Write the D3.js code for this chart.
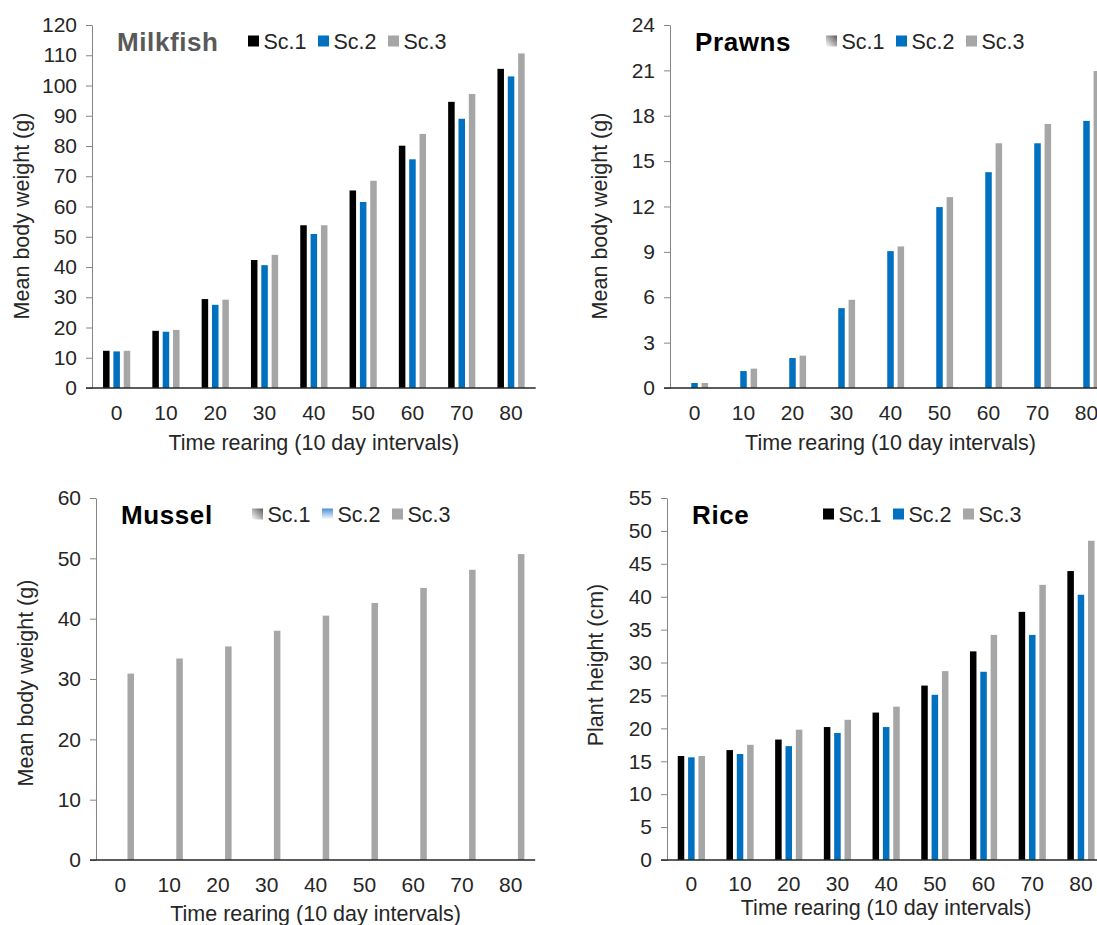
<!DOCTYPE html>
<html>
<head>
<meta charset="utf-8">
<script src="https://cdn.jsdelivr.net/npm/d3@7"></script>
<style>
  body { margin: 0; background: #fff; }
  svg { display: block; }
  text { font-family: "Liberation Sans", Arial, sans-serif; }
</style>
</head>
<body>
<svg id="chart" width="1097" height="925"></svg>
<script>
// categories
const days = ["0", "10", "20", "30", "40", "50", "60", "70", "80"];
const scenarios = ["Sc.1", "Sc.2", "Sc.3"];
const scColors = ["#000000", "#0070c0", "#a6a6a6"];

// milkfish mean body weight (g)
const milkfishSc1 = [12.3, 18.9, 29.4, 42.3, 53.8, 65.3, 80.1, 94.6, 105.5];
const milkfishSc2 = [12.1, 18.6, 27.5, 40.6, 50.9, 61.5, 75.6, 89.0, 103.0];
const milkfishSc3 = [12.3, 19.2, 29.2, 44.0, 53.8, 68.5, 84.0, 97.2, 110.6];

// prawns mean body weight (g) - no Sc.1 data
const prawnsSc1 = [];
const prawnsSc2 = [0.33, 1.12, 1.98, 5.28, 9.05, 11.96, 14.27, 16.18, 17.66];
const prawnsSc3 = [0.33, 1.28, 2.14, 5.83, 9.36, 12.62, 16.18, 17.46, 20.96];

// mussel mean body weight (g) - Sc.3 only
const musselSc1 = [];
const musselSc2 = [];
const musselSc3 = [30.9, 33.4, 35.4, 38.0, 40.5, 42.6, 45.1, 48.1, 50.7];

// rice plant height (cm)
const riceSc1 = [15.8, 16.7, 18.3, 20.2, 22.4, 26.5, 31.7, 37.7, 43.9];
const riceSc2 = [15.6, 16.1, 17.3, 19.3, 20.2, 25.1, 28.6, 34.2, 40.3];
const riceSc3 = [15.8, 17.5, 19.8, 21.3, 23.3, 28.7, 34.2, 41.8, 48.5];

// y tick settings
const milkfishTicks = d3.range(0, 121, 10);
const prawnsTicks = d3.range(0, 25, 3);
const musselTicks = d3.range(0, 61, 10);
const riceTicks = d3.range(0, 56, 5);

const svg = d3.select("#chart");
const defs = svg.append("defs");

let g1 = defs.append("linearGradient").attr("id", "fadeGray")
  .attr("x1", 0).attr("y1", 1).attr("x2", 1).attr("y2", 0);
g1.append("stop").attr("offset", "0%").attr("stop-color", "#ffffff");
g1.append("stop").attr("offset", "100%").attr("stop-color", "#595959");

let g2 = defs.append("linearGradient").attr("id", "fadeBlue")
  .attr("x1", 0).attr("y1", 0).attr("x2", 0).attr("y2", 1);
g2.append("stop").attr("offset", "0%").attr("stop-color", "#4a8fd6");
g2.append("stop").attr("offset", "100%").attr("stop-color", "#ffffff");

const panels = [
  { title: "Milkfish", titleColor: "#595959", left: 92, top: 25, bottom: 388, band: 49.3,
    ticks: milkfishTicks, yTitle: "Mean body weight (g)", yTitleX: 21, yTitleY: 216,
    series: [milkfishSc1, milkfishSc2, milkfishSc3], swatch: ["#000000", "#0070c0", "#a6a6a6"],
    labelDy: 25, xTitleDy: 54 },
  { title: "Prawns", titleColor: "#000000", left: 670, top: 25, bottom: 388, band: 49,
    ticks: prawnsTicks, yTitle: "Mean body weight (g)", yTitleX: 599, yTitleY: 216,
    series: [prawnsSc1, prawnsSc2, prawnsSc3], swatch: ["url(#fadeGray)", "#0070c0", "#a6a6a6"],
    labelDy: 25, xTitleDy: 54 },
  { title: "Mussel", titleColor: "#000000", left: 96, top: 498, bottom: 860, band: 48.8,
    ticks: musselTicks, yTitle: "Mean body weight (g)", yTitleX: 25, yTitleY: 683,
    series: [musselSc1, musselSc2, musselSc3], swatch: ["url(#fadeGray)", "url(#fadeBlue)", "#a6a6a6"],
    labelDy: 25, xTitleDy: 53 },
  { title: "Rice", titleColor: "#000000", left: 667, top: 498, bottom: 860, band: 48.7,
    ticks: riceTicks, yTitle: "Plant height (cm)", yTitleX: 595, yTitleY: 665,
    series: [riceSc1, riceSc2, riceSc3], swatch: ["#000000", "#0070c0", "#a6a6a6"],
    labelDy: 23.5, xTitleDy: 47 }
];

panels.forEach(p => {
  let g = svg.append("g");

  let x = d3.scaleBand()
    .domain(days)
    .range([p.left, p.left + days.length * p.band]);

  let inner = d3.scaleBand()
    .domain(scenarios)
    .range([-13.6, 13.6])
    .paddingInner(0.37);

  let y = d3.scaleLinear()
    .domain([0, d3.max(p.ticks)])
    .range([p.bottom, p.top]);

  // bars
  p.series.forEach((vals, si) => {
    g.selectAll(null)
      .data(vals.map((v, i) => ({ day: days[i], v: v })))
      .enter()
      .append("rect")
      .attr("x", d => x(d.day) + x.bandwidth() / 2 + inner(scenarios[si]))
      .attr("y", d => y(d.v))
      .attr("width", inner.bandwidth())
      .attr("height", d => p.bottom - y(d.v))
      .attr("fill", scColors[si]);
  });

  // y axis
  let yAxis = g.append("g")
    .attr("transform", "translate(" + p.left + ",0)")
    .call(d3.axisLeft(y).tickValues(p.ticks).tickSize(6).tickSizeOuter(0).tickPadding(9));
  yAxis.select(".domain").attr("stroke", "#868686");
  yAxis.selectAll(".tick line").attr("stroke", "#868686");
  yAxis.selectAll(".tick text")
    .attr("font-size", 21)
    .attr("fill", "#262626")
    .style("font-family", "'Liberation Sans', Arial, sans-serif");

  // x baseline + labels
  g.append("line")
    .attr("x1", p.left - 6).attr("x2", x.range()[1])
    .attr("y1", p.bottom).attr("y2", p.bottom)
    .attr("stroke", "#262626").attr("stroke-width", 1.3);

  g.selectAll(null)
    .data(days)
    .enter()
    .append("text")
    .attr("x", d => x(d) + x.bandwidth() / 2)
    .attr("y", p.bottom + p.labelDy)
    .attr("dy", "0.35em")
    .attr("text-anchor", "middle")
    .attr("font-size", 21)
    .attr("fill", "#262626")
    .text(d => d);

  // axis titles
  g.append("text")
    .attr("x", (x.range()[0] + x.range()[1]) / 2)
    .attr("y", p.bottom + p.xTitleDy)
    .attr("dy", "0.35em")
    .attr("text-anchor", "middle")
    .attr("font-size", 21.5)
    .attr("fill", "#262626")
    .text("Time rearing (10 day intervals)");

  g.append("text")
    .attr("transform", "translate(" + p.yTitleX + "," + p.yTitleY + ") rotate(-90)")
    .attr("dy", "0.35em")
    .attr("text-anchor", "middle")
    .attr("font-size", 21.5)
    .attr("fill", "#262626")
    .text(p.yTitle);

  // panel title
  g.append("text")
    .attr("x", p.left + 25)
    .attr("y", p.top + 25.5)
    .attr("font-size", 26)
    .attr("font-weight", "bold")
    .attr("letter-spacing", 0.6)
    .attr("fill", p.titleColor)
    .text(p.title);

  // legend
  let leg = g.selectAll(null)
    .data(scenarios)
    .enter()
    .append("g")
    .attr("transform", (d, i) => "translate(" + (p.left + 156 + i * 70) + "," + (p.top + 16) + ")");

  leg.append("rect")
    .attr("x", 0).attr("y", -5.5)
    .attr("width", 11).attr("height", 11)
    .attr("fill", (d, i) => p.swatch[i]);

  leg.append("text")
    .attr("x", 15.5)
    .attr("dy", "0.35em")
    .attr("font-size", 21.5)
    .attr("fill", "#262626")
    .text(d => d);
});
</script>
</body>
</html>
